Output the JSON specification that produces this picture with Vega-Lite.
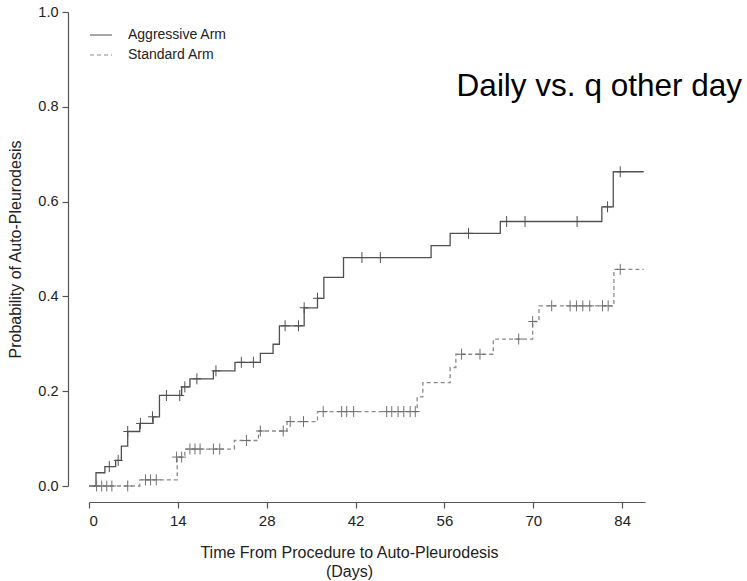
{
  "$schema": "https://vega.github.io/schema/vega-lite/v6.json",
  "width": 556,
  "height": 474,
  "autosize": "none",
  "padding": {"left": 89, "top": 12, "right": 102, "bottom": 95},
  "background": "white",
  "config": {
    "view": {"stroke": null},
    "font": "Liberation Sans",
    "axis": {"grid": false, "domainColor": "#555", "tickColor": "#555", "labelColor": "#222", "titleColor": "#222", "labelFontSize": 15, "titleFontSize": 16, "titleFontWeight": "normal", "tickSize": 6, "domainWidth": 1.2, "tickWidth": 1.2}
  },
  "title": {"text": "Daily vs. q other day", "orient": "top", "anchor": "end", "frame": "group", "dx": 97, "dy": 123, "offset": 0, "baseline": "alphabetic", "fontSize": 31.5, "fontWeight": "normal", "color": "#000", "font": "Liberation Sans"},
  "datasets": {
    "steps": [
      {"arm": "Aggressive Arm", "day": 0, "p": 0},
      {"arm": "Aggressive Arm", "day": 1.1, "p": 0.028},
      {"arm": "Aggressive Arm", "day": 2.5, "p": 0.041},
      {"arm": "Aggressive Arm", "day": 4.2, "p": 0.054},
      {"arm": "Aggressive Arm", "day": 5.1, "p": 0.084},
      {"arm": "Aggressive Arm", "day": 6.1, "p": 0.115},
      {"arm": "Aggressive Arm", "day": 8.0, "p": 0.132},
      {"arm": "Aggressive Arm", "day": 10.1, "p": 0.146},
      {"arm": "Aggressive Arm", "day": 11.1, "p": 0.191},
      {"arm": "Aggressive Arm", "day": 14.6, "p": 0.209},
      {"arm": "Aggressive Arm", "day": 15.9, "p": 0.226},
      {"arm": "Aggressive Arm", "day": 19.6, "p": 0.243},
      {"arm": "Aggressive Arm", "day": 23.0, "p": 0.261},
      {"arm": "Aggressive Arm", "day": 27.0, "p": 0.280},
      {"arm": "Aggressive Arm", "day": 29.0, "p": 0.299},
      {"arm": "Aggressive Arm", "day": 30.0, "p": 0.338},
      {"arm": "Aggressive Arm", "day": 33.9, "p": 0.376},
      {"arm": "Aggressive Arm", "day": 36.0, "p": 0.396},
      {"arm": "Aggressive Arm", "day": 37.0, "p": 0.440},
      {"arm": "Aggressive Arm", "day": 40.1, "p": 0.482},
      {"arm": "Aggressive Arm", "day": 53.9, "p": 0.507},
      {"arm": "Aggressive Arm", "day": 56.9, "p": 0.533},
      {"arm": "Aggressive Arm", "day": 64.8, "p": 0.558},
      {"arm": "Aggressive Arm", "day": 80.8, "p": 0.589},
      {"arm": "Aggressive Arm", "day": 82.6, "p": 0.663},
      {"arm": "Aggressive Arm", "day": 87.4, "p": 0.663},
      {"arm": "Standard Arm", "day": 0, "p": 0},
      {"arm": "Standard Arm", "day": 8.0, "p": 0.013},
      {"arm": "Standard Arm", "day": 13.9, "p": 0.061},
      {"arm": "Standard Arm", "day": 15.1, "p": 0.078},
      {"arm": "Standard Arm", "day": 22.9, "p": 0.096},
      {"arm": "Standard Arm", "day": 26.7, "p": 0.116},
      {"arm": "Standard Arm", "day": 31.2, "p": 0.136},
      {"arm": "Standard Arm", "day": 36.0, "p": 0.157},
      {"arm": "Standard Arm", "day": 51.7, "p": 0.188},
      {"arm": "Standard Arm", "day": 52.6, "p": 0.218},
      {"arm": "Standard Arm", "day": 56.9, "p": 0.250},
      {"arm": "Standard Arm", "day": 57.8, "p": 0.278},
      {"arm": "Standard Arm", "day": 63.7, "p": 0.310},
      {"arm": "Standard Arm", "day": 69.9, "p": 0.347},
      {"arm": "Standard Arm", "day": 70.9, "p": 0.380},
      {"arm": "Standard Arm", "day": 82.7, "p": 0.457},
      {"arm": "Standard Arm", "day": 87.4, "p": 0.457}
    ],
    "censors": [
      {"arm": "Aggressive Arm", "day": 3.2, "p": 0.041},
      {"arm": "Aggressive Arm", "day": 4.6, "p": 0.054},
      {"arm": "Aggressive Arm", "day": 6.1, "p": 0.115},
      {"arm": "Aggressive Arm", "day": 8.1, "p": 0.132},
      {"arm": "Aggressive Arm", "day": 10.0, "p": 0.146},
      {"arm": "Aggressive Arm", "day": 12.2, "p": 0.191},
      {"arm": "Aggressive Arm", "day": 14.3, "p": 0.191},
      {"arm": "Aggressive Arm", "day": 15.1, "p": 0.209},
      {"arm": "Aggressive Arm", "day": 17.0, "p": 0.226},
      {"arm": "Aggressive Arm", "day": 20.0, "p": 0.243},
      {"arm": "Aggressive Arm", "day": 24.0, "p": 0.261},
      {"arm": "Aggressive Arm", "day": 25.9, "p": 0.261},
      {"arm": "Aggressive Arm", "day": 30.9, "p": 0.338},
      {"arm": "Aggressive Arm", "day": 33.0, "p": 0.338},
      {"arm": "Aggressive Arm", "day": 33.9, "p": 0.376},
      {"arm": "Aggressive Arm", "day": 36.0, "p": 0.396},
      {"arm": "Aggressive Arm", "day": 43.0, "p": 0.482},
      {"arm": "Aggressive Arm", "day": 45.9, "p": 0.482},
      {"arm": "Aggressive Arm", "day": 59.8, "p": 0.533},
      {"arm": "Aggressive Arm", "day": 65.8, "p": 0.558},
      {"arm": "Aggressive Arm", "day": 68.7, "p": 0.558},
      {"arm": "Aggressive Arm", "day": 76.9, "p": 0.558},
      {"arm": "Aggressive Arm", "day": 81.7, "p": 0.589},
      {"arm": "Aggressive Arm", "day": 83.7, "p": 0.663},
      {"arm": "Standard Arm", "day": 1.2, "p": 0},
      {"arm": "Standard Arm", "day": 2.0, "p": 0},
      {"arm": "Standard Arm", "day": 2.8, "p": 0},
      {"arm": "Standard Arm", "day": 3.6, "p": 0},
      {"arm": "Standard Arm", "day": 6.1, "p": 0},
      {"arm": "Standard Arm", "day": 8.9, "p": 0.013},
      {"arm": "Standard Arm", "day": 9.7, "p": 0.013},
      {"arm": "Standard Arm", "day": 10.6, "p": 0.013},
      {"arm": "Standard Arm", "day": 13.8, "p": 0.061},
      {"arm": "Standard Arm", "day": 14.6, "p": 0.061},
      {"arm": "Standard Arm", "day": 15.9, "p": 0.078},
      {"arm": "Standard Arm", "day": 16.7, "p": 0.078},
      {"arm": "Standard Arm", "day": 17.5, "p": 0.078},
      {"arm": "Standard Arm", "day": 19.6, "p": 0.078},
      {"arm": "Standard Arm", "day": 20.6, "p": 0.078},
      {"arm": "Standard Arm", "day": 24.8, "p": 0.096},
      {"arm": "Standard Arm", "day": 27.0, "p": 0.116},
      {"arm": "Standard Arm", "day": 30.6, "p": 0.116},
      {"arm": "Standard Arm", "day": 31.7, "p": 0.136},
      {"arm": "Standard Arm", "day": 33.8, "p": 0.136},
      {"arm": "Standard Arm", "day": 36.9, "p": 0.157},
      {"arm": "Standard Arm", "day": 39.8, "p": 0.157},
      {"arm": "Standard Arm", "day": 40.6, "p": 0.157},
      {"arm": "Standard Arm", "day": 41.7, "p": 0.157},
      {"arm": "Standard Arm", "day": 46.9, "p": 0.157},
      {"arm": "Standard Arm", "day": 47.7, "p": 0.157},
      {"arm": "Standard Arm", "day": 48.7, "p": 0.157},
      {"arm": "Standard Arm", "day": 49.6, "p": 0.157},
      {"arm": "Standard Arm", "day": 50.6, "p": 0.157},
      {"arm": "Standard Arm", "day": 51.4, "p": 0.157},
      {"arm": "Standard Arm", "day": 58.7, "p": 0.278},
      {"arm": "Standard Arm", "day": 61.6, "p": 0.278},
      {"arm": "Standard Arm", "day": 67.7, "p": 0.310},
      {"arm": "Standard Arm", "day": 69.9, "p": 0.347},
      {"arm": "Standard Arm", "day": 72.9, "p": 0.380},
      {"arm": "Standard Arm", "day": 75.8, "p": 0.380},
      {"arm": "Standard Arm", "day": 76.8, "p": 0.380},
      {"arm": "Standard Arm", "day": 77.8, "p": 0.380},
      {"arm": "Standard Arm", "day": 78.9, "p": 0.380},
      {"arm": "Standard Arm", "day": 80.9, "p": 0.380},
      {"arm": "Standard Arm", "day": 81.8, "p": 0.380},
      {"arm": "Standard Arm", "day": 83.7, "p": 0.457}
    ]
  },
  "layer": [
    {
      "data": {"name": "steps"},
      "mark": {"type": "line", "interpolate": "step-after", "strokeWidth": 1.3},
      "encoding": {
        "x": {"field": "day", "type": "quantitative", "scale": {"domain": [0, 87.6], "nice": false, "zero": false},
              "axis": {"values": [0, 14, 28, 42, 56, 70, 84], "offset": 16, "title": ["Time From Procedure to Auto-Pleurodesis", "(Days)"], "titlePadding": 16, "titleLineHeight": 19, "titleX": 260, "labelPadding": 5}},
        "y": {"field": "p", "type": "quantitative", "scale": {"domain": [0, 1], "nice": false},
              "axis": {"values": [0, 0.2, 0.4, 0.6, 0.8, 1.0], "format": ".1f", "offset": 21, "title": "Probability of Auto-Pleurodesis", "titlePadding": 14, "labelPadding": 4, "labelFontSize": 14.5}},
        "color": {"field": "arm", "type": "nominal", "scale": {"domain": ["Aggressive Arm", "Standard Arm"], "range": ["#505050", "#8a8a8a"]},
                  "legend": {"title": null, "orient": "none", "legendX": 0, "legendY": 11, "symbolType": "stroke", "symbolSize": 484, "symbolStrokeWidth": 1.2, "labelFontSize": 14, "labelColor": "#222", "labelOffset": 15, "rowPadding": 1, "padding": 0}},
        "strokeDash": {"field": "arm", "type": "nominal", "scale": {"domain": ["Aggressive Arm", "Standard Arm"], "range": [[1, 0], [4, 3]]},
                  "legend": {"title": null, "orient": "none", "legendX": 0, "legendY": 11, "symbolType": "stroke", "symbolSize": 484, "symbolStrokeWidth": 1.2, "labelFontSize": 14, "labelColor": "#222", "labelOffset": 15, "rowPadding": 1, "padding": 0}}
      }
    },
    {
      "data": {"name": "censors"},
      "mark": {"type": "point", "shape": "M-0.8,0H0.8M0,-1V1", "filled": false, "size": 121, "strokeWidth": 1, "opacity": 1},
      "encoding": {
        "x": {"field": "day", "type": "quantitative"},
        "y": {"field": "p", "type": "quantitative"},
        "stroke": {"field": "arm", "type": "nominal", "scale": {"domain": ["Aggressive Arm", "Standard Arm"], "range": ["#505050", "#707070"]}, "legend": null}
      }
    }
  ]
}
